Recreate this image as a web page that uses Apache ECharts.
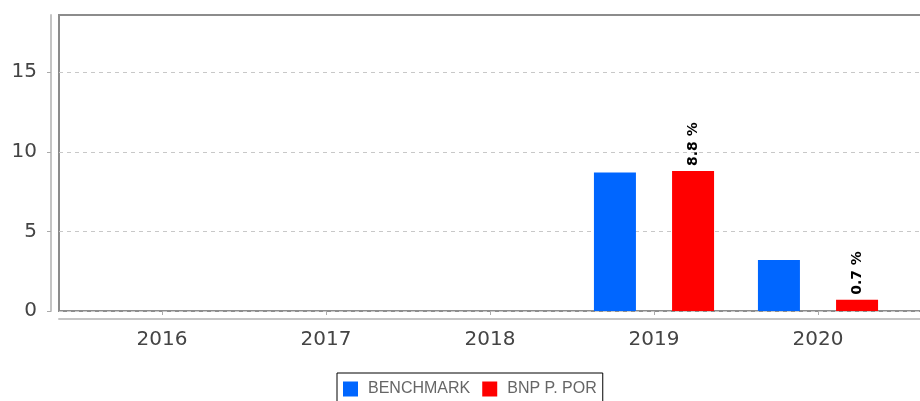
<!DOCTYPE html>
<html>
<head>
<meta charset="utf-8">
<script src="https://cdn.jsdelivr.net/npm/echarts@6/dist/echarts.min.js"></script>
<style>
  html, body { margin: 0; padding: 0; background: #fff; }
  #show { width: 920px; height: 401px; }
</style>
</head>
<body>
<div id="show"></div>
<script>
// data
var years = ['2016', '2017', '2018', '2019', '2020'];
var benchmark = ['-', '-', '-', 8.7, 3.2];
var bnpPor = ['-', '-', '-', 8.8, 0.7];
var yTicks = [0, 5, 10, 15];

var myChart = echarts.init(document.getElementById('show'));

var option = {
    animation: false,
    backgroundColor: '#fff',
    textStyle: { fontFamily: 'DejaVu Sans' },
    // grid 0 : bars, grid 1 : framed plot box with the visible axes
    grid: [
        { left: 80, right: 20, top: 15, bottom: 90, outerBoundsMode: 'none' },
        { left: 59, width: 866, top: 15, bottom: 90, outerBoundsMode: 'none', show: true, borderColor: '#8c8c8c', borderWidth: 2 }
    ],
    legend: {
        left: 337,
        top: 373,
        padding: [8, 6, 8, 6],
        borderColor: '#000',
        borderWidth: 1,
        itemWidth: 15,
        itemHeight: 15,
        itemGap: 12,
        icon: 'rect',
        textStyle: { fontFamily: 'Liberation Sans', fontSize: 16, color: '#666', padding: [0, 0, 0, 5] },
        data: ['BENCHMARK', 'BNP P. POR']
    },
    xAxis: [
        {
            type: 'category',
            gridIndex: 0,
            data: years,
            offset: 8,
            axisLine: { show: false },
            axisTick: { show: true, alignWithLabel: true, length: 4, lineStyle: { color: '#aaa' } },
            axisLabel: { color: '#444', fontSize: 20, margin: 11 },
            splitLine: { show: false }
        },
        {
            type: 'value',
            gridIndex: 1,
            offset: 8,
            axisLine: { show: true, onZero: false, lineStyle: { color: '#c4c4c4', width: 2 } },
            axisTick: { show: false },
            axisLabel: { show: false },
            splitLine: { show: false }
        }
    ],
    yAxis: [
        {
            type: 'value',
            gridIndex: 0,
            min: 0,
            max: 18.6,
            show: false,
            splitLine: { show: false }
        },
        {
            type: 'value',
            gridIndex: 1,
            min: 0,
            max: 18.6,
            interval: 5,
            offset: 8,
            axisLine: { show: true, onZero: false, lineStyle: { color: '#c4c4c4', width: 2 } },
            axisTick: { show: true, length: 4, customValues: yTicks, lineStyle: { color: '#aaa' } },
            axisLabel: { color: '#444', fontSize: 20, margin: 14, customValues: yTicks },
            splitLine: { show: true, lineStyle: { color: '#c8c8c8', type: [4, 4], width: 1 } }
        }
    ],
    series: [
        {
            name: 'BENCHMARK',
            type: 'bar',
            xAxisIndex: 0,
            yAxisIndex: 0,
            barWidth: 42,
            barGap: '86%',
            itemStyle: { color: '#0066ff' },
            data: benchmark
        },
        {
            name: 'BNP P. POR',
            type: 'bar',
            xAxisIndex: 0,
            yAxisIndex: 0,
            barWidth: 42,
            barGap: '86%',
            itemStyle: { color: '#ff0000' },
            label: {
                show: true,
                position: 'top',
                rotate: 90,
                align: 'left',
                verticalAlign: 'middle',
                distance: 5,
                color: '#000',
                fontSize: 14,
                fontWeight: 'bold',
                formatter: function (p) { return p.value + ' %'; }
            },
            data: bnpPor
        }
    ]
};

myChart.setOption(option);
</script>
</body>
</html>
